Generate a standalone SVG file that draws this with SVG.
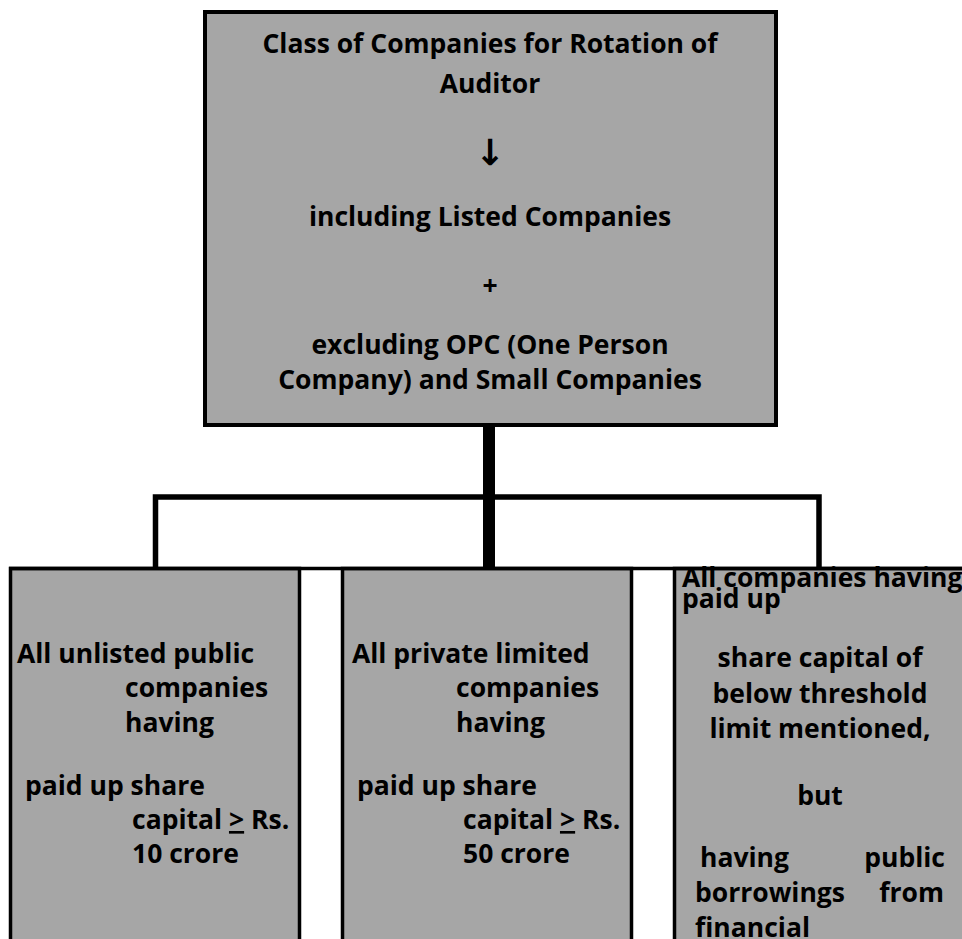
<svg xmlns="http://www.w3.org/2000/svg" width="962" height="939" viewBox="0 0 962 939">
<style>
  .box { fill: #a6a6a6; stroke: #000; stroke-width: 3.5; }
  .top { stroke-width: 4; }
  .t { font-family: "Open Sans", Lato, "Liberation Sans", sans-serif; font-weight: 700; font-size: 26.5px; fill: #000; }
  .c { text-anchor: middle; }
  .e { text-anchor: end; }
  .conn { fill: none; stroke: #000; stroke-linejoin: miter; }
</style>
<rect width="962" height="939" fill="#fff"/>

<g id="connectors">
  <line class="conn" x1="489" y1="425" x2="489" y2="568" stroke-width="12"/>
  <path class="conn" d="M155.5,568 V497 H819 V568" stroke-width="5.5"/>
</g>

<g id="root">
  <rect class="box top" x="205" y="12" width="571" height="413"/>
  <text class="t c" x="490" y="53">Class of Companies for Rotation of</text>
  <text class="t c" x="490" y="93">Auditor</text>
  <text class="t c" x="490" y="165" style="font-family:'DejaVu Sans',sans-serif;font-weight:700;font-size:36px">↓</text>
  <text class="t c" x="490" y="226">including Listed Companies</text>
  <text class="t c" x="490" y="295">+</text>
  <text class="t c" x="490" y="354">excluding OPC (One Person</text>
  <text class="t c" x="490" y="389">Company) and Small Companies</text>
</g>

<g id="unlisted">
  <rect class="box" x="10.5" y="568.5" width="289" height="400"/>
  <text class="t" x="17" y="663">All unlisted public</text>
  <text class="t" x="125" y="697">companies</text>
  <text class="t" x="125" y="732">having</text>
  <text class="t" x="25" y="795">paid up share</text>
  <text class="t" x="132" y="829">capital <tspan text-decoration="underline">&gt;</tspan> Rs.</text>
  <text class="t" x="132" y="863">10 crore</text>
</g>

<g id="private">
  <rect class="box" x="342.5" y="568.5" width="289" height="400"/>
  <text class="t" x="352" y="663">All private limited</text>
  <text class="t" x="456" y="697">companies</text>
  <text class="t" x="456" y="732">having</text>
  <text class="t" x="357" y="795">paid up share</text>
  <text class="t" x="463" y="829">capital <tspan text-decoration="underline">&gt;</tspan> Rs.</text>
  <text class="t" x="463" y="863">50 crore</text>
</g>

<g id="below-threshold">
  <rect class="box" x="674.5" y="568.5" width="400" height="400"/>
  <text class="t" x="682" y="587">All companies having</text>
  <text class="t" x="682" y="608">paid up</text>
  <text class="t c" x="820" y="667">share capital of</text>
  <text class="t c" x="820" y="703">below threshold</text>
  <text class="t c" x="820" y="738">limit mentioned,</text>
  <text class="t c" x="820" y="805">but</text>
  <text class="t" x="700" y="867">having</text>
  <text class="t e" x="945" y="867">public</text>
  <text class="t" x="695" y="902">borrowings</text>
  <text class="t e" x="944" y="902">from</text>
  <text class="t" x="695" y="937">financial</text>
</g>

<line x1="9" y1="568.5" x2="962" y2="568.5" stroke="#000" stroke-width="3.5"/>
</svg>
